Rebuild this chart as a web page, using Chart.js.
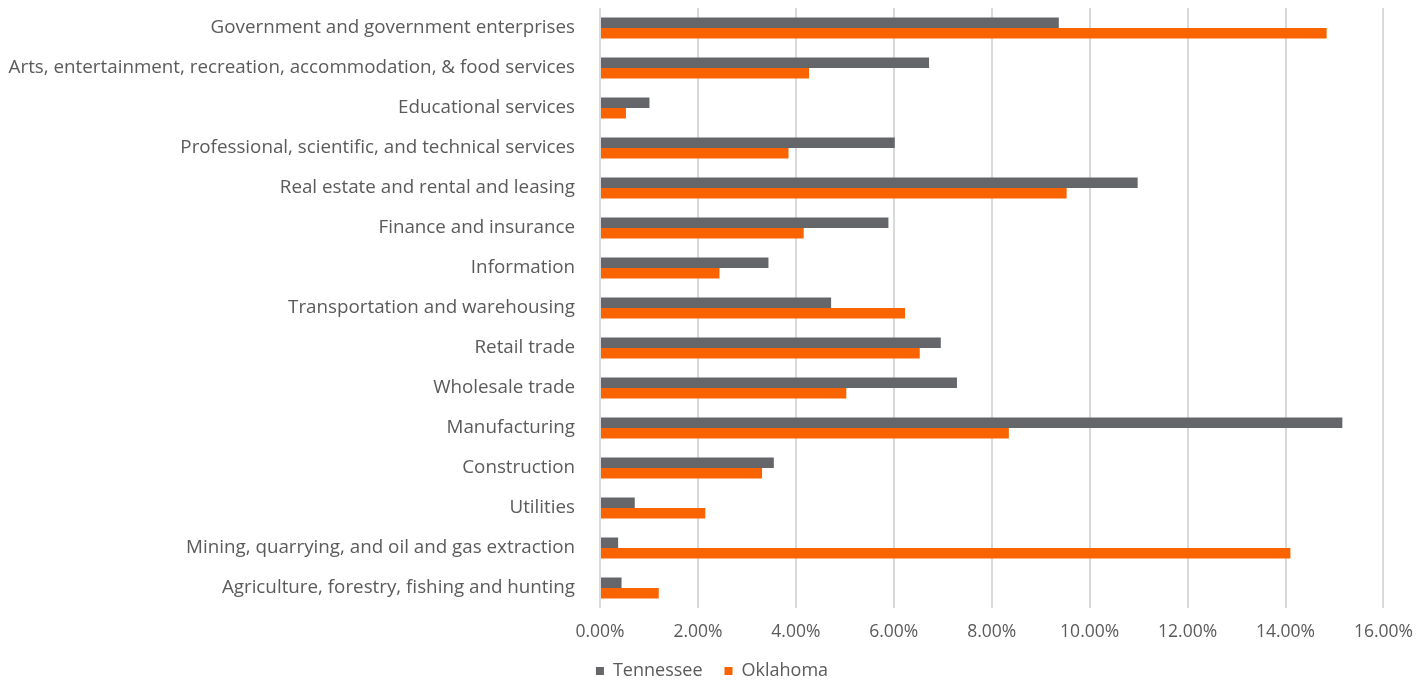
<!DOCTYPE html>
<html>
<head>
<meta charset="utf-8">
<script src="https://cdn.jsdelivr.net/npm/chart.js@4.4.0/dist/chart.umd.min.js"></script>
<style>
html, body { margin: 0; padding: 0; background: #fff; }
#wrap { width: 1427px; height: 680px; position: relative; }
</style>
</head>
<body>
<div id="wrap"><canvas id="myChart"></canvas></div>
<script>
// industries, top to bottom
var categories = [
    'Government and government enterprises',
    'Arts, entertainment, recreation, accommodation, & food services',
    'Educational services',
    'Professional, scientific, and technical services',
    'Real estate and rental and leasing',
    'Finance and insurance',
    'Information',
    'Transportation and warehousing',
    'Retail trade',
    'Wholesale trade',
    'Manufacturing',
    'Construction',
    'Utilities',
    'Mining, quarrying, and oil and gas extraction',
    'Agriculture, forestry, fishing and hunting'
];
// share of state GDP, in percent
var tennessee = [9.37, 6.72, 1.01, 6.02, 10.98, 5.89, 3.44, 4.72, 6.96, 7.29, 15.16, 3.55, 0.71, 0.37, 0.44];
var oklahoma  = [14.84, 4.27, 0.53, 3.85, 9.53, 4.16, 2.44, 6.23, 6.53, 5.03, 8.35, 3.31, 2.15, 14.10, 1.20];
var xTicks = [0, 2, 4, 6, 8, 10, 12, 14, 16];

var fontName = 'Open Sans';
var txtColor = '#5a5a5a';

// nudge the legend so it centres under the whole picture like the original
var legendShift = {
    id: 'legendShift',
    beforeDraw: function(chart) {
        chart.legend.left = 40;
    }
};

var ctx = document.getElementById('myChart').getContext('2d');
var chart = new Chart(ctx, {
    type: 'bar',
    data: {
        labels: categories,
        datasets: [{
            label: 'Tennessee',
            backgroundColor: '#65666a',
            data: tennessee,
            categoryPercentage: 0.525,
            barPercentage: 1.0
        }, {
            label: 'Oklahoma',
            backgroundColor: '#fa6400',
            data: oklahoma,
            categoryPercentage: 0.525,
            barPercentage: 1.0
        }]
    },
    plugins: [legendShift],
    options: {
        indexAxis: 'y',
        responsive: true,
        maintainAspectRatio: false,
        animation: false,
        // negative bottom so the legend sits close to the lower edge
        layout: { padding: { top: 8, right: 43, left: 0, bottom: -10 } },
        plugins: {
            tooltip: { enabled: false },
            legend: {
                position: 'bottom',
                labels: {
                    boxWidth: 8,
                    boxHeight: 8,
                    color: txtColor,
                    padding: 22,
                    font: { family: fontName, size: 18 }
                }
            }
        },
        scales: {
            x: {
                min: 0,
                max: 16,
                afterBuildTicks: function(scale) {
                    scale.ticks = xTicks.map(function(v) { return { value: v }; });
                },
                afterFit: function(scale) { scale.height = 32; },
                grid: { color: '#d9d9d9', lineWidth: 2, drawTicks: false },
                border: { display: false },
                ticks: {
                    color: txtColor,
                    padding: 14,
                    font: { family: fontName, size: 17.5 },
                    callback: function(v) { return v.toFixed(2) + '%'; }
                }
            },
            y: {
                grid: { display: false },
                border: { display: false },
                afterFit: function(scale) {
                    scale.width = 600;
                    scale.paddingTop = 0;
                    scale.paddingBottom = 0;
                },
                ticks: {
                    color: txtColor,
                    padding: 17,
                    autoSkip: false,
                    font: { family: fontName, size: 18.8 }
                }
            }
        }
    }
});
</script>
</body>
</html>
